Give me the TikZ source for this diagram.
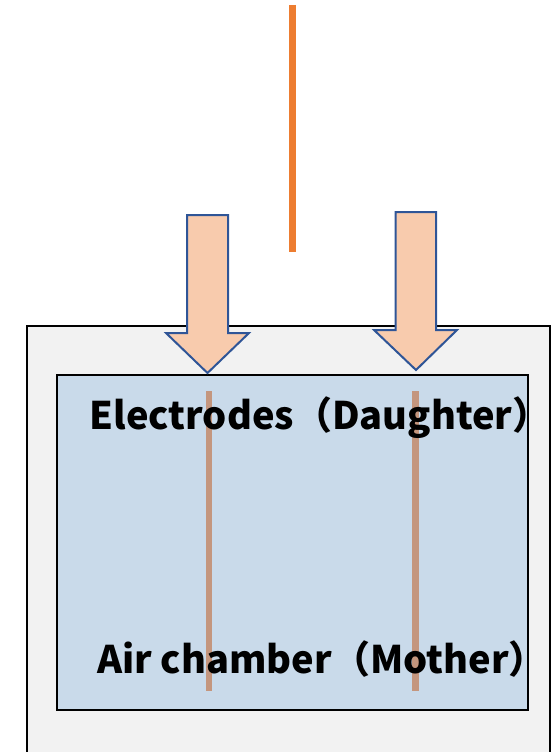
\documentclass[tikz,border=0pt]{standalone}
\usepackage{fontspec}
\newfontfamily\jp{Noto Sans CJK JP}
\definecolor{orangeline}{HTML}{ED7D31}
\definecolor{outerfill}{HTML}{F2F2F2}
\definecolor{innerfill}{HTML}{C9DAEA}
\definecolor{arrowfill}{HTML}{F8CBAD}
\definecolor{arrowedge}{HTML}{2F5597}
\definecolor{electrode}{HTML}{C4967E}
\tikzset{
  bigarrow/.style={fill=arrowfill, draw=arrowedge, line width=2pt, line join=miter},
  electrodeline/.style={draw=electrode, line width=6.5pt},
  label/.style={font=\jp\bfseries\fontsize{38}{44}\selectfont, inner sep=0pt, anchor=base},
}
\begin{document}
\begin{tikzpicture}[x=1pt,y=-1pt]
\useasboundingbox (0,0) rectangle (553,752);
\clip (0,0) rectangle (553,752);
% orange line
\coordinate (ot) at (292.5,5);
\coordinate (ob) at (292.5,252);
\draw[orangeline, line width=6.5pt] (ot) -- (ob);
% outer box
\node[draw=black, line width=1.6pt, fill=outerfill, minimum width=523pt, minimum height=460pt, anchor=north west, inner sep=0pt] (outer) at (26,325) {};
% inner box
\node[draw=black, line width=2pt, fill=innerfill, minimum width=471pt, minimum height=335pt, anchor=north west, inner sep=0pt] (inner) at (56,374) {};
% electrodes
\coordinate (e1t) at (209,391);
\coordinate (e1b) at (209,691);
\coordinate (e2t) at (415.5,391);
\coordinate (e2b) at (415.5,691);
\draw[electrodeline] (e1t) -- (e1b);
\draw[electrodeline] (e2t) -- (e2b);
% arrows
\draw[bigarrow] (187,215) -- (228,215) -- (228,333) -- (249,333) -- (207.5,373) -- (166,333) -- (187,333) -- cycle;
\draw[bigarrow] (395.5,212) -- (436,212) -- (436,330) -- (457,330) -- (416,370) -- (374,330) -- (395.5,330) -- cycle;
% labels
\node[label] (lab1) at (320,429) {Electrodes（Daughter）};
\node[label] (lab2) at (322,673) {Air chamber（Mother）};
\end{tikzpicture}
\end{document}
